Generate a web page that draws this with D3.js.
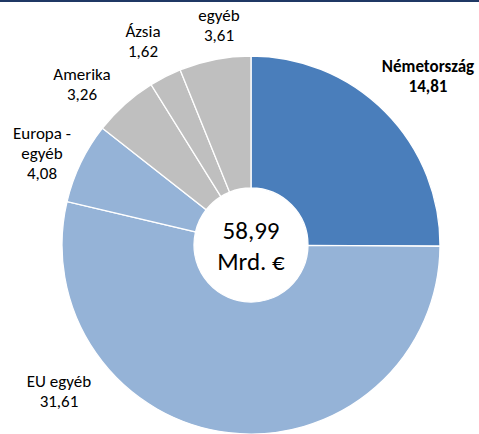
<!DOCTYPE html>
<html>
<head>
    <meta charset="UTF-8">
    <style>
        body { margin: 0; background: #fff; }
        svg { display: block; }
        text { font-family: Carlito, Calibri, Lato, "Open Sans", sans-serif; fill: #000; }
    </style>
</head>
<body>
    <svg></svg>
    <script src="https://d3js.org/d3.v7.min.js"></script>
    <script>
        let width = 479, height = 434;

        // data (Mrd. €), clockwise from 12 o'clock
        const categories = ["Németország", "EU egyéb", "Europa - egyéb", "Amerika", "Ázsia", "egyéb"];
        const values = [14.81, 31.61, 4.08, 3.26, 1.62, 3.61];
        const colors = ["#4a7ebb", "#95b3d7", "#95b3d7", "#bfbfbf", "#bfbfbf", "#bfbfbf"];
        // label lines (category text may break over lines)
        const labelLines = [["Németország"], ["EU egyéb"], ["Europa -", "egyéb"], ["Amerika"], ["Ázsia"], ["egyéb"]];

        // label anchor positions (layout only), first-line baseline
        const labelPos = [[428, 72], [59, 387], [42, 139], [82, 80], [143, 37], [219, 21]];

        const cx = 251, cy = 245, outerR = 189, innerR = 57;
        const lineH = 20;

        const locale = d3.formatLocale({ decimal: ",", thousands: " ", grouping: [3], currency: ["", " €"] });
        const fmt = locale.format(".2f");

        let svg = d3.select("svg")
            .attr("width", width)
            .attr("height", height)
            .attr("viewBox", "0 0 " + width + " " + height);

        // top rule
        svg.append("rect")
            .attr("x", 0).attr("y", 0)
            .attr("width", width).attr("height", 2)
            .attr("fill", "#1f3864");

        let data = categories.map((c, i) => ({ name: c, value: values[i], color: colors[i], lines: labelLines[i], pos: labelPos[i] }));

        let pie = d3.pie().sort(null).value(d => d.value);
        let arc = d3.arc().innerRadius(innerR).outerRadius(outerR);

        let g = svg.append("g").attr("transform", `translate(${cx},${cy})`);

        g.selectAll("path")
            .data(pie(data))
            .join("path")
            .attr("d", arc)
            .attr("fill", d => d.data.color)
            .attr("stroke", "#fff")
            .attr("stroke-width", 1.3);

        // center total
        let total = d3.sum(values);
        g.append("text")
            .attr("text-anchor", "middle")
            .attr("y", -6)
            .style("font-size", "25px")
            .text(fmt(total));
        g.append("text")
            .attr("text-anchor", "middle")
            .attr("y", 25)
            .style("font-size", "25px")
            .text("Mrd. €");

        // labels
        let labels = svg.append("g")
            .selectAll("text")
            .data(data)
            .join("text")
            .attr("text-anchor", "middle")
            .attr("x", d => d.pos[0])
            .attr("y", d => d.pos[1])
            .style("font-size", "17px")
            .style("font-weight", (d, i) => i === 0 ? "bold" : "normal");

        labels.each(function (d) {
            let t = d3.select(this);
            let lines = d.lines.concat([fmt(d.value)]);
            lines.forEach((l, k) => {
                t.append("tspan")
                    .attr("x", d.pos[0])
                    .attr("dy", k === 0 ? 0 : lineH)
                    .text(l);
            });
        });
    </script>
</body>
</html>
